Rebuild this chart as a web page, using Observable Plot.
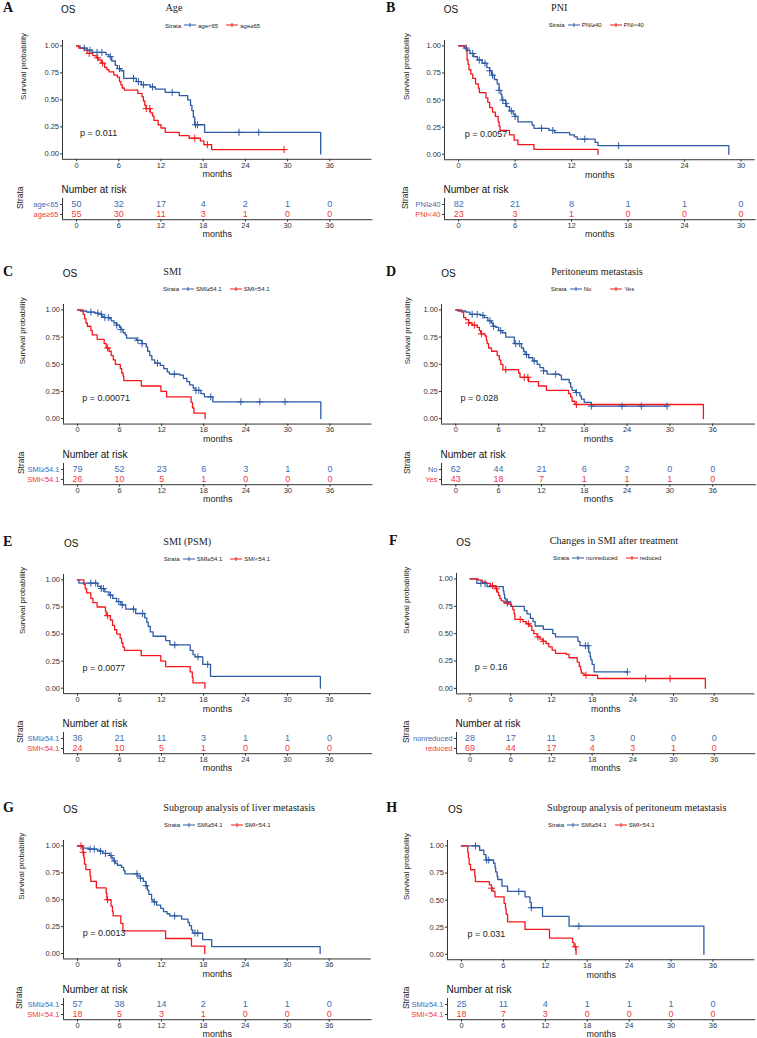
<!DOCTYPE html>
<html><head><meta charset="utf-8">
<script src="https://cdn.jsdelivr.net/npm/d3@7"></script>
<script src="https://cdn.jsdelivr.net/npm/@observablehq/plot@0.6"></script>
<style>
body{margin:0;background:#fff;}
#root{position:relative;width:757px;height:1038px;overflow:hidden;font-family:"Liberation Sans",Arial,sans-serif;color:#222;}
.abs{position:absolute;white-space:nowrap;line-height:1;}
.abs svg{display:block;max-width:none;}
</style></head><body><div id="root"></div>
<script>
// ---------- shared ticks ----------
const months36 = [0, 6, 12, 18, 24, 30, 36];
const months30 = [0, 6, 12, 18, 24, 30];
const survTicks = [0, 0.25, 0.5, 0.75, 1];

// ---------- A: Age ----------
const aStrata = ["age<65", "age≥65"];
const aBlue = [[0,1],[0.5,0.98],[1.5,0.96],[2.2,0.94],[4.2,0.92],[4.6,0.9],[5.0,0.86],[5.5,0.82],[5.8,0.79],[6.3,0.77],[6.7,0.7],[8.5,0.67],[9.2,0.64],[10.5,0.62],[11.2,0.6],[12.6,0.57],[14.6,0.54],[15.8,0.5],[16.2,0.45],[16.4,0.4],[16.6,0.34],[16.8,0.27],[18.2,0.2],[34.7,0]];
const aRed = [[0,1],[0.3,0.98],[1.1,0.96],[1.5,0.93],[2.3,0.91],[2.8,0.89],[3.1,0.87],[3.5,0.84],[4.0,0.8],[4.3,0.78],[4.6,0.76],[5.3,0.73],[5.8,0.71],[6.1,0.67],[6.3,0.64],[6.5,0.61],[6.8,0.59],[8.7,0.56],[9.3,0.53],[9.5,0.49],[9.7,0.45],[9.9,0.42],[10.5,0.38],[10.8,0.35],[11.0,0.31],[11.6,0.27],[12.0,0.24],[12.6,0.2],[14.6,0.17],[16.0,0.145],[17.6,0.12],[18.1,0.085],[19.2,0.04],[29.5,0.04]];
const aBlueCens = [1.1,1.9,2.9,3.6,4.8,6.1,8.1,8.8,9.5,10.8,13.6,16.9,17.2,23.1,25.9];
const aRedCens = [1.8,3.0,3.7,9.9,10.4,16.8,18.6,29.5];
const aRiskBlue = [50,32,17,4,2,1,0];
const aRiskRed = [55,30,11,3,1,0,0];

// ---------- B: PNI ----------
const bStrata = ["PNI≥40", "PNI<40"];
const bBlue = [[0,1],[0.6,0.98],[0.9,0.96],[1.2,0.93],[1.6,0.9],[2.0,0.87],[2.5,0.84],[3.0,0.8],[3.3,0.77],[3.5,0.73],[3.8,0.69],[4.1,0.65],[4.3,0.59],[4.5,0.55],[4.6,0.5],[5.0,0.47],[5.1,0.44],[5.4,0.4],[5.8,0.37],[6.0,0.35],[6.3,0.3],[7.8,0.27],[8.0,0.24],[9.6,0.22],[10.2,0.2],[11.8,0.18],[12.3,0.16],[12.6,0.14],[14.5,0.11],[14.8,0.08],[28.7,0]];
const bRed = [[0,1],[0.8,0.96],[0.9,0.87],[1.0,0.83],[1.1,0.78],[1.3,0.74],[1.5,0.7],[1.8,0.65],[2.1,0.61],[2.2,0.57],[2.9,0.52],[3.1,0.48],[3.3,0.43],[3.6,0.39],[3.9,0.35],[4.2,0.3],[4.3,0.26],[4.4,0.22],[5.4,0.18],[5.9,0.13],[6.3,0.09],[8.0,0.045],[14.8,0]];
const bBlueCens = [0.8,1.5,2.2,2.8,3.3,3.6,4.3,4.7,5.0,5.6,6.0,8.8,10.0,13.4,17.0];
const bRedCens = [];
const bRiskBlue = [82,21,8,1,1,0];
const bRiskRed = [23,3,1,0,0,0];

// ---------- C: SMI ----------
const cStrata = ["SMI≥54.1", "SMI<54.1"];
const cBlue = [[0,1],[0.4,0.99],[1.3,0.98],[2.5,0.97],[3.0,0.96],[3.5,0.94],[3.8,0.93],[4.5,0.92],[4.8,0.9],[5.2,0.88],[5.6,0.86],[6.0,0.84],[6.2,0.82],[6.5,0.79],[6.8,0.77],[7.0,0.74],[8.4,0.72],[9.2,0.69],[9.8,0.66],[10.0,0.62],[10.3,0.58],[10.6,0.54],[11.0,0.51],[11.8,0.49],[12.3,0.46],[12.8,0.43],[13.1,0.41],[14.6,0.4],[15.1,0.37],[15.6,0.34],[16.0,0.31],[16.5,0.28],[16.8,0.26],[17.6,0.23],[18.1,0.2],[19.3,0.155],[34.7,0]];
const cRed = [[0,1],[0.8,0.96],[1.0,0.92],[1.2,0.88],[1.4,0.85],[1.9,0.81],[2.1,0.77],[2.8,0.73],[3.8,0.69],[4.1,0.65],[4.5,0.62],[4.8,0.58],[5.1,0.54],[5.4,0.5],[6.1,0.46],[6.3,0.42],[6.5,0.39],[6.6,0.35],[9.1,0.3],[11.9,0.25],[12.7,0.2],[16.2,0.15],[16.4,0.1],[16.6,0.05],[18.2,0]];
const cBlueCens = [1.9,2.9,3.4,3.9,4.4,5.6,6.2,8.6,9.2,11.4,13.8,16.9,17.3,19.0,23.3,26.0,29.6];
const cRedCens = [4.3];
const cRiskBlue = [79,52,23,6,3,1,0];
const cRiskRed = [26,10,5,1,0,0,0];

// ---------- D: Peritoneum metastasis ----------
const dStrata = ["No", "Yes"];
const dBlue = [[0,1],[0.3,0.99],[1.4,0.98],[2.0,0.96],[3.5,0.95],[4.0,0.93],[4.5,0.9],[5.0,0.88],[5.2,0.85],[5.6,0.84],[6.0,0.81],[6.5,0.79],[7.0,0.75],[8.2,0.69],[9.2,0.65],[9.5,0.62],[9.7,0.59],[10.2,0.56],[10.8,0.53],[11.4,0.5],[11.8,0.47],[12.3,0.44],[12.8,0.41],[14.5,0.4],[14.8,0.36],[15.9,0.33],[16.1,0.29],[16.3,0.26],[16.8,0.24],[17.4,0.21],[17.6,0.18],[18.0,0.15],[19.0,0.115],[29.6,0.115]];
const dRed = [[0,1],[0.8,0.98],[1.1,0.93],[1.4,0.91],[1.8,0.88],[2.3,0.86],[3.0,0.84],[3.3,0.81],[3.5,0.78],[4.1,0.76],[4.3,0.72],[4.4,0.69],[4.6,0.65],[5.0,0.62],[5.8,0.58],[6.1,0.54],[6.3,0.5],[6.6,0.45],[8.8,0.42],[9.0,0.38],[10.2,0.34],[11.6,0.3],[12.7,0.26],[15.8,0.23],[16.1,0.2],[16.3,0.16],[16.7,0.13],[34.7,0]];
const dBlueCens = [2.3,3.0,3.8,4.8,5.3,6.3,8.4,8.9,9.9,11.0,12.3,14.0,16.9,19.0,23.3,26.0,29.6];
const dRedCens = [1.8,2.6,3.6,7.0,9.6,10.1,16.9];
const dRiskBlue = [62,44,21,6,2,0,0];
const dRiskRed = [43,18,7,1,1,1,0];

// ---------- E: SMI (PSM) ----------
const eStrata = ["SMI≥54.1", "SMI<54.1"];
const eBlue = [[0,1],[0.2,0.97],[2.9,0.94],[3.3,0.92],[3.9,0.89],[4.5,0.86],[5.0,0.83],[5.6,0.8],[6.2,0.77],[6.9,0.73],[8.3,0.69],[9.6,0.65],[9.9,0.61],[10.1,0.57],[10.4,0.52],[10.8,0.48],[12.6,0.44],[13.2,0.4],[16.1,0.35],[16.5,0.31],[16.8,0.29],[17.9,0.22],[19.0,0.11],[34.7,0]];
const eRed = [[0,1],[0.9,0.96],[1.1,0.92],[1.3,0.88],[1.9,0.83],[2.2,0.79],[2.8,0.75],[4.0,0.71],[4.1,0.67],[4.7,0.63],[5.0,0.58],[5.3,0.54],[5.6,0.5],[6.1,0.46],[6.3,0.42],[6.5,0.38],[6.7,0.35],[9.1,0.3],[11.9,0.25],[12.6,0.2],[16.1,0.15],[16.4,0.1],[16.5,0.05],[18.2,0]];
const eBlueCens = [1.9,2.6,3.4,3.7,4.7,5.9,6.4,8.0,9.3,13.9,17.2,18.6];
const eRedCens = [4.3];
const eRiskBlue = [36,21,11,3,1,1,0];
const eRiskRed = [24,10,5,1,0,0,0];

// ---------- F: Changes in SMI after treatment ----------
const fStrata = ["nonreduced", "reduced"];
const fBlue = [[0,1],[1.0,0.96],[2.5,0.93],[4.9,0.89],[5.0,0.86],[5.1,0.82],[5.3,0.79],[6.0,0.75],[8.0,0.71],[8.4,0.68],[8.9,0.64],[9.3,0.61],[9.6,0.57],[10.8,0.54],[12.2,0.5],[12.6,0.47],[15.9,0.43],[16.2,0.39],[17.5,0.33],[17.7,0.29],[17.8,0.26],[18.0,0.22],[18.3,0.15],[23.2,0.15]];
const fRed = [[0,1],[1.2,0.99],[1.8,0.97],[2.4,0.96],[3.0,0.94],[3.6,0.93],[3.8,0.91],[4.0,0.88],[4.2,0.85],[4.4,0.82],[4.6,0.8],[5.0,0.78],[5.7,0.77],[6.1,0.75],[6.3,0.72],[6.5,0.68],[6.6,0.63],[7.8,0.61],[8.3,0.59],[8.8,0.57],[9.1,0.53],[9.4,0.5],[9.9,0.47],[10.3,0.45],[10.7,0.43],[11.2,0.41],[11.6,0.38],[12.1,0.35],[12.6,0.32],[14.2,0.31],[14.6,0.28],[15.8,0.24],[16.1,0.2],[16.3,0.17],[16.4,0.14],[16.8,0.12],[18.8,0.09],[34.7,0]];
const fBlueCens = [1.6,2.2,5.5,17.0,17.4,23.2];
const fRedCens = [3.3,3.9,5.5,7.4,8.6,10.0,10.8,17.1,25.9,29.5];
const fRiskBlue = [28,17,11,3,0,0,0];
const fRiskRed = [69,44,17,4,3,1,0];

// ---------- G: Subgroup analysis of liver metastasis ----------
const gStrata = ["SMI≥54.1", "SMI<54.1"];
const gBlue = [[0,1],[0.7,0.98],[1.6,0.97],[2.8,0.96],[3.2,0.95],[3.6,0.93],[4.6,0.91],[4.9,0.89],[5.1,0.86],[5.4,0.84],[5.7,0.82],[6.3,0.8],[6.6,0.77],[6.8,0.74],[8.6,0.72],[9.0,0.7],[9.4,0.67],[9.8,0.63],[10.0,0.59],[10.2,0.55],[10.6,0.5],[10.8,0.48],[11.3,0.45],[11.9,0.42],[12.3,0.39],[12.8,0.37],[13.2,0.35],[14.9,0.32],[15.8,0.29],[16.0,0.26],[16.3,0.22],[16.5,0.19],[17.9,0.13],[19.2,0.065],[34.7,0]];
const gRed = [[0,1],[0.8,0.94],[0.9,0.89],[1.0,0.83],[1.2,0.78],[1.8,0.72],[1.9,0.67],[2.7,0.61],[4.1,0.56],[4.2,0.5],[4.8,0.44],[5.0,0.39],[5.1,0.35],[6.2,0.28],[6.5,0.21],[12.6,0.14],[16.3,0.07],[18.2,0]];
const gBlueCens = [1.8,2.4,3.3,4.0,4.8,5.3,8.5,9.0,9.8,11.0,13.9,16.8,17.2];
const gRedCens = [0.5,0.8,4.3];
const gRiskBlue = [57,38,14,2,1,1,0];
const gRiskRed = [18,5,3,1,0,0,0];

// ---------- H: Subgroup analysis of peritoneum metastasis ----------
const hStrata = ["SMI≥54.1", "SMI<54.1"];
const hBlue = [[0,1],[2.6,0.96],[3.2,0.92],[3.5,0.87],[4.6,0.84],[4.8,0.8],[4.9,0.76],[5.1,0.72],[5.2,0.69],[5.8,0.63],[6.6,0.58],[9.1,0.53],[9.8,0.48],[10.0,0.43],[11.6,0.35],[15.4,0.26],[34.7,0]];
const hRed = [[0,1],[0.9,0.94],[1.0,0.89],[1.1,0.83],[1.3,0.78],[1.9,0.72],[2.0,0.67],[4.0,0.64],[4.3,0.61],[4.5,0.58],[4.8,0.53],[6.1,0.47],[6.3,0.42],[6.4,0.37],[6.6,0.3],[9.1,0.23],[12.6,0.15],[15.9,0.11],[16.1,0.07],[16.4,0]];
const hBlueCens = [2.0,3.6,3.9,8.2,10.0,16.8];
const hRedCens = [4.3,16.3];
const hRiskBlue = [25,11,4,1,1,1,0];
const hRiskRed = [18,7,3,0,0,0,0];

// ---------- colours ----------
const BLUE = "#2D5BA6", RED = "#F5161B", BLUE_T = "#3B6CB4", RED_T = "#F23A3A", AXIS = "#333";

// ---------- panel layout ----------
const panels = [
 {letter:"A", title:"Age", p:"p = 0.011", pX:0.5, strata:aStrata, blue:aBlue, red:aRed, bc:aBlueCens, rc:aRedCens, rb:aRiskBlue, rr:aRiskRed, ticks:months36, xdom:[-2,42],
  L:62, R:371.5, py1:45.7, py0:153.7, letterX:3, osX:61, titleX:165.5, legX:165, yLabX:22.5, strataX:20},
 {letter:"B", title:"PNI", p:"p = 0.0057", pX:0.64, strata:bStrata, blue:bBlue, red:bRed, bc:bBlueCens, rc:bRedCens, rb:bRiskBlue, rr:bRiskRed, ticks:months30, xdom:[-1.5,31.5],
  L:444, R:754.7, py1:45.3, py0:153.7, letterX:386, osX:443.7, titleX:551, legX:548.7, yLabX:406, strataX:404.5},
 {letter:"C", title:"SMI", p:"p = 0.00071", pX:0.67, strata:cStrata, blue:cBlue, red:cRed, bc:cBlueCens, rc:cRedCens, rb:cRiskBlue, rr:cRiskRed, ticks:months36, xdom:[-2,42],
  L:62.5, R:371, py1:309.3, py0:418, letterX:3, osX:62.7, titleX:163.3, legX:163, yLabX:21.7, strataX:20},
 {letter:"D", title:"Peritoneum metastasis", p:"p = 0.028", pX:0.65, strata:dStrata, blue:dBlue, red:dRed, bc:dBlueCens, rc:dRedCens, rb:dRiskBlue, rr:dRiskRed, ticks:months36, xdom:[-2,42],
  L:440.7, R:754.7, py1:309.3, py0:418, letterX:386, osX:441.3, titleX:551.3, legX:550.7, yLabX:406.3, strataX:406, legGap:[19,8]},
 {letter:"E", title:"SMI (PSM)", p:"p = 0.0077", pX:0.7, strata:eStrata, blue:eBlue, red:eRed, bc:eBlueCens, rc:eRedCens, rb:eRiskBlue, rr:eRiskRed, ticks:months36, xdom:[-2,42],
  L:63.3, R:371.3, py1:579, py0:687.3, letterX:3, osX:64, titleX:163.3, legX:163.7, yLabX:22.7, strataX:20},
 {letter:"F", title:"Changes in SMI after treatment", p:"p = 0.16", pX:0.7, strata:fStrata, blue:fBlue, red:fRed, bc:fBlueCens, rc:fRedCens, rb:fRiskBlue, rr:fRiskRed, ticks:months36, xdom:[-2,42],
  L:456.3, R:754.7, py1:578.3, py0:687.7, letterX:389, osX:456.3, titleX:549.7, legX:553, yLabX:406.3, strataX:406},
 {letter:"G", title:"Subgroup analysis of liver metastasis", p:"p = 0.0013", pX:0.76, strata:gStrata, blue:gBlue, red:gRed, bc:gBlueCens, rc:gRedCens, rb:gRiskBlue, rr:gRiskRed, ticks:months36, xdom:[-2,42],
  L:63.3, R:371, py1:845.3, py0:953, letterX:3, osX:63.3, titleX:163.3, legX:164, yLabX:21.7, strataX:19.3},
 {letter:"H", title:"Subgroup analysis of peritoneum metastasis", p:"p = 0.031", pX:0.86, strata:hStrata, blue:hBlue, red:hRed, bc:hBlueCens, rc:hRedCens, rb:hRiskBlue, rr:hRiskRed, ticks:months36, xdom:[-2,42],
  L:447.3, R:754.7, py1:845.3, py0:953.7, letterX:386.3, osX:448, titleX:547, legX:548, yLabX:406.3, strataX:406}
];

const root = document.getElementById("root");
const FONT = "'Liberation Sans', Arial, sans-serif";

function place(el, x, y, centerY) {
  const d = document.createElement("div");
  d.className = "abs";
  d.style.left = x + "px";
  d.style.top = y + "px";
  if (centerY) d.style.transform = "translateY(-50%)";
  d.appendChild(el);
  root.appendChild(d);
  return d;
}
function textDiv(txt, css) {
  const s = document.createElement("span");
  s.textContent = txt;
  Object.assign(s.style, css);
  return s;
}
function survAt(curve, t) {
  let s = curve[0][1];
  for (const [ti, si] of curve) { if (ti <= t + 1e-9) s = si; else break; }
  return s;
}
function keySvg(color) {
  const ns = "http://www.w3.org/2000/svg";
  const svg = document.createElementNS(ns, "svg");
  svg.setAttribute("width", 12); svg.setAttribute("height", 7);
  svg.style.display = "inline-block"; svg.style.verticalAlign = "middle";
  const l1 = document.createElementNS(ns, "line");
  l1.setAttribute("x1", 0); l1.setAttribute("x2", 12); l1.setAttribute("y1", 3.5); l1.setAttribute("y2", 3.5);
  l1.setAttribute("stroke", color); l1.setAttribute("stroke-width", 1.2);
  const l2 = document.createElementNS(ns, "line");
  l2.setAttribute("x1", 6); l2.setAttribute("x2", 6); l2.setAttribute("y1", 1.5); l2.setAttribute("y2", 5.5);
  l2.setAttribute("stroke", color); l2.setAttribute("stroke-width", 1);
  svg.appendChild(l1); svg.appendChild(l2);
  return svg;
}

for (const p of panels) {
  const span = p.py0 - p.py1;
  const fTop = p.py1 - 0.05 * span, fBot = p.py0 + 0.05 * span;

  // letter, OS, title
  place(textDiv(p.letter, {font: "bold 14px 'Liberation Serif', 'Times New Roman', serif", color: "#111"}), p.letterX, p.py1 - 38.5, true);
  place(textDiv("OS", {font: "10px " + FONT, color: "#111"}), p.osX, p.py1 - 37.4, true);
  place(textDiv(p.title, {font: "10.2px 'Liberation Serif', 'Times New Roman', serif", color: "#222"}), p.titleX, p.py1 - 39.5, true);

  // legend
  const lg = document.createElement("div");
  lg.style.display = "flex"; lg.style.alignItems = "center"; lg.style.font = "6px " + FONT; lg.style.color = "#222";
  lg.appendChild(textDiv("Strata", {marginRight: "3px"}));
  const gaps = p.legGap || [8, 8];
  [[BLUE, p.strata[0]], [RED, p.strata[1]]].forEach(([c, lab], i) => {
    lg.appendChild(keySvg(c));
    lg.appendChild(textDiv(lab, {marginLeft: "2px", marginRight: gaps[i] + "px"}));
  });
  place(lg, p.legX, p.py1 - 20.5, true);

  // ---------- survival curves ----------
  const mL = 60, mR = 4, mT = 4, mB = 30;
  const W = mL + (p.R - p.L) + mR;
  const kmH = mT + (fBot - fTop) + mB;
  const blueLine = p.blue.map(([t, s]) => ({t, s}));
  const redLine = p.red.map(([t, s]) => ({t, s}));
  const blueC = p.bc.map(t => ({t, s: survAt(p.blue, t)}));
  const redC = p.rc.map(t => ({t, s: survAt(p.red, t)}));
  const km = Plot.plot({
    width: W, height: kmH, marginLeft: mL, marginRight: mR, marginTop: mT, marginBottom: mB,
    style: {background: "transparent", overflow: "visible", fontFamily: FONT, color: AXIS},
    x: {domain: p.xdom},
    y: {domain: [-0.05, 1.05]},
    marks: [
      Plot.axisY(survTicks, {tickFormat: ".2f", tickSize: 2, tickPadding: 1.5, fontSize: 7.5, label: null}),
      Plot.axisX(p.ticks, {tickSize: 2.5, tickPadding: 0.5, fontSize: 7.5, label: null}),
      Plot.ruleX([p.xdom[0]], {stroke: AXIS, strokeWidth: 1}),
      Plot.ruleY([-0.05], {stroke: AXIS, strokeWidth: 1}),
      Plot.line(blueLine, {x: "t", y: "s", curve: "step-after", stroke: BLUE, strokeWidth: 1.3}),
      Plot.line(redLine, {x: "t", y: "s", curve: "step-after", stroke: RED, strokeWidth: 1.3}),
      Plot.dot(blueC, {x: "t", y: "s", symbol: "plus", r: 2.4, stroke: BLUE, strokeWidth: 1}),
      Plot.dot(redC, {x: "t", y: "s", symbol: "plus", r: 2.4, stroke: RED, strokeWidth: 1}),
      Plot.text([p.p], {x: p.pX, y: 0.19, textAnchor: "start", fontSize: 9, fill: "#222"}),
      Plot.text(["Survival probability"], {frameAnchor: "left", rotate: -90, dx: p.yLabX - p.L, fontSize: 8, fill: "#222"}),
      Plot.text(["months"], {frameAnchor: "bottom", lineAnchor: "middle", dy: 15, fontSize: 9, fill: "#222"})
    ]
  });
  place(km, p.L - mL, fTop - mT, false);

  // ---------- risk table ----------
  const tTop = p.py0 + 44.5, tBot = p.py0 + 65.7;
  const tmT = 16, tmB = 22;
  const riskBlue = p.ticks.map((t, i) => ({t, g: p.strata[0], n: p.rb[i]}));
  const riskRed = p.ticks.map((t, i) => ({t, g: p.strata[1], n: p.rr[i]}));
  const tbl = Plot.plot({
    width: W, height: tmT + (tBot - tTop) + tmB, marginLeft: mL, marginRight: mR, marginTop: tmT, marginBottom: tmB,
    style: {background: "transparent", overflow: "visible", fontFamily: FONT, color: AXIS},
    x: {domain: p.xdom},
    y: {type: "point", domain: p.strata, padding: 0.5},
    marks: [
      Plot.axisX(p.ticks, {tickSize: 2.5, tickPadding: 0.8, fontSize: 7.5, label: null}),
      Plot.axisY(p.strata, {tickSize: 2, tickFormat: () => "", label: null}),
      Plot.ruleX([p.xdom[0]], {stroke: AXIS, strokeWidth: 1}),
      Plot.frame({anchor: "bottom", stroke: AXIS, strokeWidth: 1}),
      Plot.text([p.strata[0]], {y: d => d, frameAnchor: "left", dx: -4, textAnchor: "end", fontSize: 7.5, fill: BLUE_T}),
      Plot.text([p.strata[1]], {y: d => d, frameAnchor: "left", dx: -4, textAnchor: "end", fontSize: 7.5, fill: RED_T}),
      Plot.text(riskBlue, {x: "t", y: "g", text: "n", fontSize: 9, fill: BLUE_T}),
      Plot.text(riskRed, {x: "t", y: "g", text: "n", fontSize: 9, fill: RED_T}),
      Plot.text(["Number at risk"], {frameAnchor: "top-left", lineAnchor: "middle", dy: -9, dx: -1, textAnchor: "start", fontSize: 10, fill: "#111"}),
      Plot.text(["Strata"], {frameAnchor: "left", rotate: -90, dx: p.strataX - p.L, fontSize: 8.5, fill: "#222"}),
      Plot.text(["months"], {frameAnchor: "bottom", lineAnchor: "middle", dy: 14.6, fontSize: 9, fill: "#222"})
    ]
  });
  place(tbl, p.L - mL, tTop - tmT, false);
}
</script></body></html>
